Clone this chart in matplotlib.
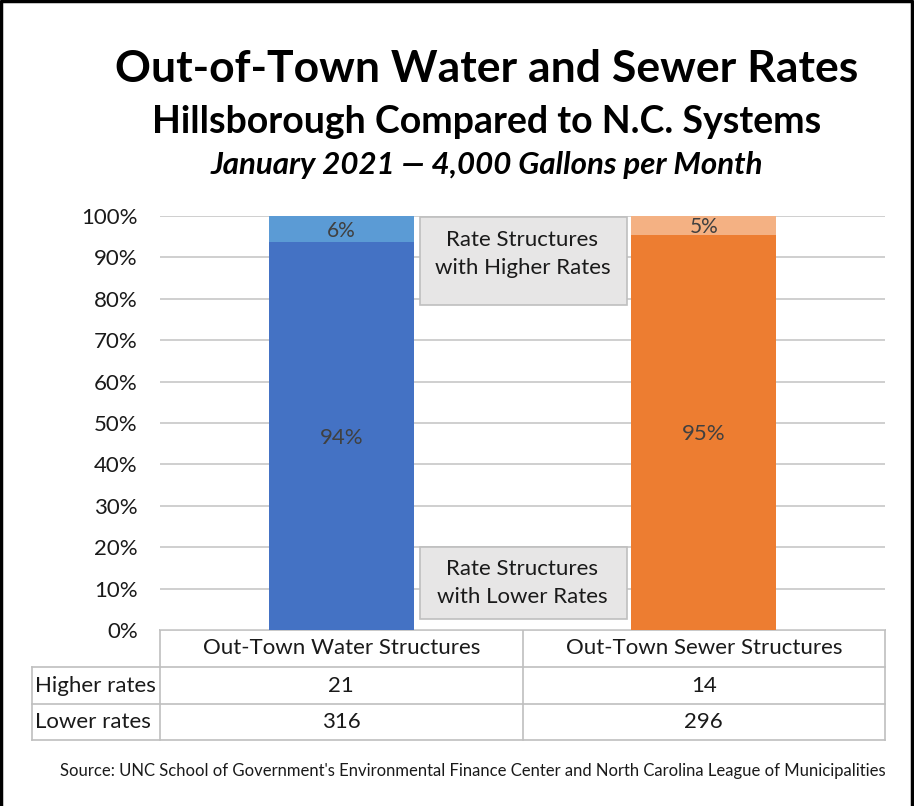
import matplotlib.pyplot as plt
from matplotlib.patches import Rectangle
import numpy as np

# data
categories = ['Out-Town Water Structures', 'Out-Town Sewer Structures']
row_labels = ['Higher rates', 'Lower rates']
higher_counts = [21, 14]
lower_counts = [316, 296]
y_ticks = [0, 10, 20, 30, 40, 50, 60, 70, 80, 90, 100]

lower_colors = ['#4472C4', '#ED7D31']
higher_colors = ['#5B9BD5', '#F4B183']

total = np.array(higher_counts) + np.array(lower_counts)
lower_pct = np.array(lower_counts) / total * 100
higher_pct = np.array(higher_counts) / total * 100

plt.rcParams['font.family'] = ['Lato', 'DejaVu Sans']

W, H = 914, 806
fig = plt.figure(figsize=(W / 100, H / 100), dpi=100)

# overlay axes in pixel coordinates for titles, table and frame
ov = fig.add_axes([0, 0, 1, 1])
ov.set_xlim(0, W)
ov.set_ylim(H, 0)
ov.axis('off')

# plot area
left, right, top, bottom = 160, 885, 216, 630
ax = fig.add_axes([left / W, 1 - bottom / H, (right - left) / W, (bottom - top) / H])
x = np.arange(len(categories))
ax.bar(x, lower_pct, 0.4, color=lower_colors, zorder=3)
ax.bar(x, higher_pct, 0.4, bottom=lower_pct, color=higher_colors, zorder=3)
ax.set_xlim(-0.5, len(categories) - 0.5)
ax.set_ylim(0, 100)
ax.set_yticks(y_ticks)
ax.set_yticklabels([f'{t}%' for t in y_ticks], fontsize=16, color='#1a1a1a')
ax.set_xticks([])
ax.tick_params(axis='y', length=0, pad=16)
ax.yaxis.grid(True, color='#CCCCCC', lw=1.3)
ax.set_axisbelow(True)
for s in ax.spines.values():
    s.set_visible(False)

for i in range(len(categories)):
    ax.text(x[i], lower_pct[i] / 2 - 0.5, f'{lower_pct[i]:.0f}%', ha='center', va='center',
            fontsize=16, color='#404040', zorder=5)
    ax.text(x[i], lower_pct[i] + higher_pct[i] / 2 - 0.5, f'{higher_pct[i]:.0f}%', ha='center',
            va='center', fontsize=15, color='#404040', zorder=5)

# explanation boxes
for (y0, y1, ty, txt) in [(78.5, 99.8, 90.8, 'Rate Structures\nwith Higher Rates'),
                          (2.7, 20.0, 11.3, 'Rate Structures\nwith Lower Rates')]:
    ax.add_patch(Rectangle((0.217, y0), 0.571, y1 - y0, facecolor='#E7E6E6',
                           edgecolor='#BFBFBF', lw=1.2, zorder=4))
    ax.text(0.5, ty, txt, ha='center', va='center', fontsize=16,
            color='#1a1a1a', linespacing=1.5, zorder=5)

# titles
ov.text(W / 2 + 30, 69, 'Out-of-Town Water and Sewer Rates', ha='center', va='center',
        fontsize=32, fontweight='bold', color='black')
ov.text(W / 2 + 30, 122, 'Hillsborough Compared to N.C. Systems', ha='center', va='center',
        fontsize=27, fontweight='bold', color='black')
ov.text(W / 2 + 30, 165, 'January 2021 \u2014 4,000 Gallons per Month', ha='center',
        va='center', fontsize=22.5, fontweight='bold', style='italic', color='black')

# data table
grid_c = '#BFBFBF'
mid = (left + right) / 2
row_y = [630, 667, 704, 740]
ov.plot([left, right], [row_y[0], row_y[0]], color=grid_c, lw=1.2)
for yy in row_y[1:]:
    ov.plot([32, right], [yy, yy], color=grid_c, lw=1.2)
for xx in [left, mid, right]:
    ov.plot([xx, xx], [row_y[0], row_y[-1]], color=grid_c, lw=1.2)
ov.plot([32, 32], [row_y[1], row_y[-1]], color=grid_c, lw=1.2)

col_centers = [(left + mid) / 2, (mid + right) / 2]
for j, cat in enumerate(categories):
    ov.text(col_centers[j], (row_y[0] + row_y[1]) / 2, cat, ha='center', va='center',
            fontsize=16, color='#1a1a1a')
table_vals = [higher_counts, lower_counts]
for r, lab in enumerate(row_labels):
    yc = (row_y[r + 1] + row_y[r + 2]) / 2
    ov.text(35, yc, lab, ha='left', va='center', fontsize=16, color='#1a1a1a')
    for j in range(len(categories)):
        ov.text(col_centers[j], yc, str(table_vals[r][j]), ha='center', va='center',
                fontsize=16, color='#1a1a1a')

ov.text(473, 771, "Source: UNC School of Government's Environmental Finance Center and North Carolina League of Municipalities",
        ha='center', va='center', fontsize=12, color='#1a1a1a')

# frame
ov.plot([1, 1, 912, 912], [H, 1, 1, H], color='black', lw=2.5, clip_on=False)

fig.savefig('out.png', dpi=100)
